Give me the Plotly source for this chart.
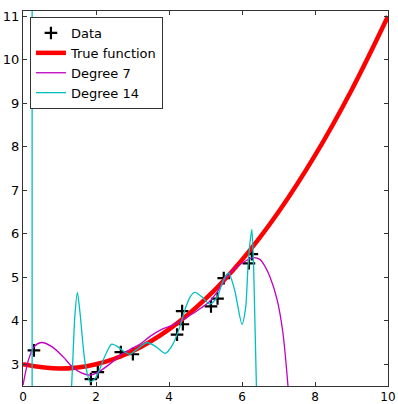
import plotly.graph_objects as go

# Data points
data_x = [0.30, 1.86, 2.05, 2.68, 3.01, 4.22, 4.36, 4.38, 5.15, 5.33, 5.50, 6.19, 6.27]
data_y = [3.32, 2.66, 2.82, 3.28, 3.23, 3.68, 4.22, 3.92, 4.33, 4.51, 4.98, 5.32, 5.53]

# True function (read)
true_x = [0, 1, 2, 3, 4, 5, 6, 7, 8, 9, 10]
true_y = [3.0, 2.9, 3.0, 3.3, 3.8, 4.5, 5.4, 6.5, 7.8, 9.3, 11.0]

# Degree 7 fit (read)
d7_x = [0.0, 0.15, 0.3, 0.5, 0.8, 1.1, 1.34, 1.6, 1.84, 2.1, 2.4, 2.7, 2.93, 3.2, 3.48, 3.8, 4.1, 4.38, 4.75, 5.12, 5.35, 5.59, 5.8, 6.03, 6.3, 6.49, 6.63, 6.77, 6.96, 7.12, 7.26]
d7_y = [2.52, 3.1, 3.4, 3.5, 3.4, 3.17, 2.95, 2.8, 2.75, 2.84, 3.02, 3.23, 3.34, 3.46, 3.64, 3.8, 3.9, 4.03, 4.22, 4.45, 4.7, 5.02, 5.2, 5.34, 5.45, 5.41, 5.25, 5.0, 4.49, 3.73, 2.5]

# Degree 14 fit (read); None separates the off-chart excursion
d14_x = [0.25, 0.25, None, 1.32, 1.36, 1.42, 1.49, 1.56, 1.7, 1.84, 1.98, 2.1, 2.25, 2.43, 2.6, 2.75, 2.93, 3.1, 3.4, 3.65, 3.9, 4.1, 4.3, 4.44, 4.58, 4.71, 4.9, 5.12, 5.32, 5.45, 5.59, 5.64, 5.8, 6.0, 6.1, 6.16, 6.22, 6.27, 6.32, 6.4]
d14_y = [12.0, 2.0, None, 2.3, 3.0, 4.1, 4.65, 4.2, 3.04, 2.6, 2.68, 2.88, 3.2, 3.46, 3.4, 3.3, 3.23, 3.33, 3.5, 3.4, 3.25, 3.45, 3.87, 4.26, 4.55, 4.65, 4.55, 4.38, 4.54, 4.85, 5.07, 5.1, 4.7, 3.92, 4.3, 5.18, 5.8, 6.1, 5.2, 2.3]

fig = go.Figure()
fig.add_trace(go.Scatter(x=data_x, y=data_y, mode="markers", name="Data",
                         marker=dict(symbol="cross-thin", size=9,
                                     line=dict(width=2.2, color="black"), color="black")))
fig.add_trace(go.Scatter(x=true_x, y=true_y, mode="lines", name="True function",
                         line=dict(color="#ff0000", width=4.5, shape="spline")))
fig.add_trace(go.Scatter(x=d7_x, y=d7_y, mode="lines", name="Degree 7",
                         line=dict(color="#bf00bf", width=1.3, shape="spline", smoothing=0.8)))
fig.add_trace(go.Scatter(x=d14_x, y=d14_y, mode="lines", name="Degree 14", connectgaps=False,
                         line=dict(color="#00bfbf", width=1.3, shape="spline", smoothing=0.7)))

axis_common = dict(showline=True, linecolor="#333333", linewidth=1, mirror="allticks",
                   ticks="inside", ticklen=4, tickcolor="#333333", showgrid=False,
                   zeroline=False, automargin=False)

fig.update_layout(
    width=398, height=404,
    margin=dict(l=23, r=10, t=11, b=18),
    plot_bgcolor="white", paper_bgcolor="white",
    xaxis=dict(range=[0, 10], tickvals=[0, 2, 4, 6, 8, 10],
               tickfont=dict(family="DejaVu Sans", size=12, color="black"), **axis_common),
    yaxis=dict(range=[2.5, 11.12], tickvals=[3, 4, 5, 6, 7, 8, 9, 10, 11],
               tickfont=dict(family="DejaVu Sans", size=13, color="black"), **axis_common),
    showlegend=True,
    legend=dict(x=0.019, y=0.984, xanchor="left", yanchor="top",
                bgcolor="white", bordercolor="#333333", borderwidth=1,
                font=dict(family="DejaVu Sans", size=13, color="black"),
                tracegroupgap=0, itemwidth=30),
)

fig.write_html("out.html", config={"displayModeBar": False},
               post_script="document.body.style.margin='0';document.body.style.overflow='hidden';")
